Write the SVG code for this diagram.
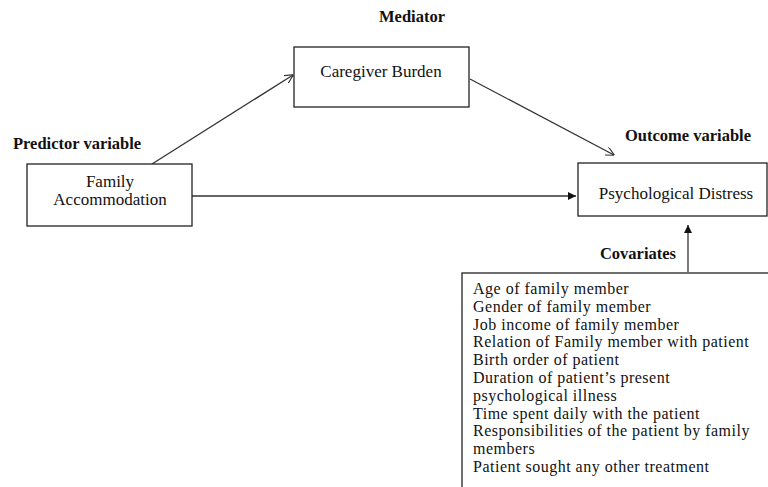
<svg xmlns="http://www.w3.org/2000/svg" width="768" height="487" viewBox="0 0 768 487">
<style>
text{font-family:"Liberation Serif","Times New Roman",serif;fill:#111}
.b{font-weight:bold;font-size:16.5px}
.n{font-size:17px}
.c{font-size:16px;letter-spacing:0.5px}
.box{fill:#fff;stroke:#222;stroke-width:1.3}
.ln{stroke:#333;stroke-width:1.3;fill:none}
</style>
<defs>
<marker id="open" viewBox="0 0 10 10" refX="9.5" refY="5" markerWidth="9" markerHeight="9" markerUnits="userSpaceOnUse" orient="auto"><path d="M0,0 L10,5 L0,10" fill="none" stroke="#333" stroke-width="1.3"/></marker>
<marker id="solid" viewBox="0 0 10 10" refX="10" refY="5" markerWidth="8" markerHeight="8" markerUnits="userSpaceOnUse" orient="auto"><path d="M0,0 L10,5 L0,10 Z" fill="#111"/></marker>
</defs>
<rect width="768" height="487" fill="#fff"/>
<text class="b" x="412" y="22" text-anchor="middle">Mediator</text>
<text class="b" x="13" y="149">Predictor variable</text>
<text class="b" x="625" y="141">Outcome variable</text>
<text class="b" x="638" y="259" text-anchor="middle">Covariates</text>
<g id="connectors">
<line class="ln" x1="152" y1="164" x2="293" y2="75" marker-end="url(#open)"/>
<line class="ln" x1="470" y1="79" x2="614" y2="155" marker-end="url(#open)"/>
<line class="ln" x1="192" y1="196" x2="576" y2="196" marker-end="url(#solid)"/>
<line class="ln" x1="688" y1="272" x2="688" y2="225" marker-end="url(#solid)"/>
</g>
<g id="caregiver">
<rect class="box" x="294" y="47" width="175" height="60"/>
<text class="n" x="381" y="77" text-anchor="middle">Caregiver Burden</text>
</g>
<g id="family">
<rect class="box" x="27" y="164" width="165" height="62"/>
<text class="n" x="110" y="187" text-anchor="middle">Family</text>
<text class="n" x="110" y="205" text-anchor="middle">Accommodation</text>
</g>
<g id="distress">
<rect class="box" x="578" y="163" width="189" height="53"/>
<text class="n" x="676" y="199" text-anchor="middle">Psychological Distress</text>
</g>
<g id="covariates">
<rect class="box" x="462" y="273" width="320" height="230"/>
<text class="c" x="473" y="294">Age of family member</text>
<text class="c" x="473" y="311.8">Gender of family member</text>
<text class="c" x="473" y="329.6">Job income of family member</text>
<text class="c" x="473" y="347.4">Relation of Family member with patient</text>
<text class="c" x="473" y="365.2">Birth order of patient</text>
<text class="c" x="473" y="383">Duration of patient’s present</text>
<text class="c" x="473" y="400.8">psychological illness</text>
<text class="c" x="473" y="418.6">Time spent daily with the patient</text>
<text class="c" x="473" y="436.4">Responsibilities of the patient by family</text>
<text class="c" x="473" y="454.2">members</text>
<text class="c" x="473" y="472">Patient sought any other treatment</text>
</g>
</svg>
